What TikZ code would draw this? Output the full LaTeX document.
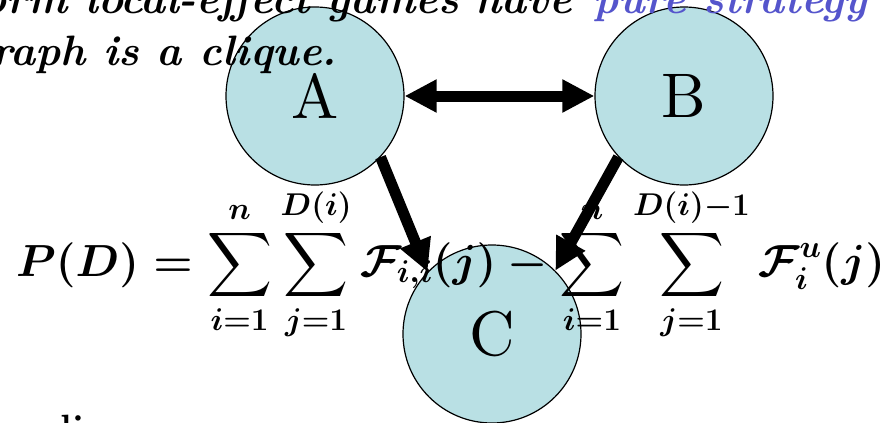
\RequirePackage{fix-cm}
\documentclass[tikz,border=0pt]{standalone}
\DeclareFontShape{OMX}{cmex}{m}{n}{<->cmex10}{}
\usetikzlibrary{arrows.meta}
\definecolor{nodefill}{RGB}{185,224,228}
\definecolor{strat}{RGB}{85,85,204}
\newsavebox{\formbox}
\newcommand{\bigletter}[1]{\scalebox{6.3}{\fontsize{10}{12}\selectfont #1}}
\begin{document}
\sbox{\formbox}{\fontsize{45}{54}\selectfont\mathversion{bold}$\displaystyle P(D)=\sum_{i=1}^{n}\sum_{j=1}^{D(i)}\mathcal{F}_{i,i}(j)-\sum_{i=1}^{n}\sum_{j=1}^{D(i)-1}\mathcal{F}_i^{u}(j)$}%
\begin{tikzpicture}[x=1pt,y=-1pt,
  circ/.style={circle,draw=black,line width=1.2pt,fill=nodefill,minimum size=178pt,inner sep=0pt},
  link/.style={line width=11pt,-{Triangle[length=32pt,width=31pt]}},
  biglink/.style={line width=11pt,{Triangle[length=32pt,width=31pt]}-{Triangle[length=32pt,width=31pt]}},
  title/.style={font=\fontsize{42.5}{50}\selectfont\bfseries\itshape, inner sep=0pt}]
\useasboundingbox (0,0) rectangle (889,423);
\clip (0,0) rectangle (889,423);
\node[circ] (A) at (315,96) {\bigletter{A}};
\node[circ] (B) at (684,96) {\bigletter{B}};
\node[circ] (C) at (492,334) {\bigletter{C}};
\node[title,anchor=base east] (t1) at (572,13) {form local-effect games have};
\node[title,anchor=base west,text=strat] (t2) at (593,13) {pure strategy};
\node[title,anchor=base east] (t3) at (337,65) {graph is a clique.};
\node[anchor=base west,inner sep=0pt] (form) at (16,276) {\usebox{\formbox}};
\node[anchor=base west,inner sep=0pt,font=\fontsize{38}{45}\selectfont\bfseries] (li) at (60,441) {li};
\draw[biglink] (A) -- (B);
\draw[link] (A.-43) -- (C.136);
\draw[link] (B.223) -- (C.45);
\end{tikzpicture}
\end{document}
